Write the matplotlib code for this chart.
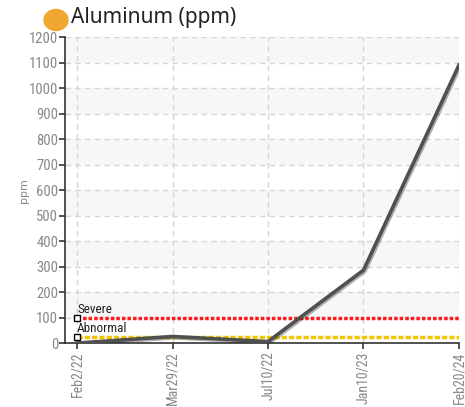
import numpy as np
import matplotlib
matplotlib.use('Agg')
import matplotlib.pyplot as plt
import matplotlib.patheffects as pe
from matplotlib.patches import Circle

dates = ['Feb2/22', 'Mar29/22', 'Jul10/22', 'Jan10/23', 'Feb20/24']
aluminum = [0, 26, 6, 286, 1090]
severe = 100
abnormal = 25
yticks = list(range(0, 1300, 100))

narrow = ['Roboto Condensed', 'DejaVu Sans']

fig = plt.figure(figsize=(4.65, 4.07), dpi=100)
ax = fig.add_axes([0.14, 0.157, 0.847, 0.752])

x = np.arange(len(dates))

# alternating bands
for lo in range(100, 1200, 200):
    ax.axhspan(lo, lo + 100, color='#f7f7f7', zorder=0, lw=0)

for yy in yticks:
    ax.axhline(yy, color='#d6d6d6', ls=(0, (4, 3)), lw=1, zorder=1)
for xx in x:
    ax.axvline(xx, color='#d6d6d6', ls=(0, (4, 3)), lw=1, zorder=1)

ax.plot([x[0], x[-1]], [severe, severe], color='#ff1a1a', lw=2.5,
        ls=(0, (1, 0.6)), zorder=2)
ax.plot([x[0], x[-1]], [abnormal, abnormal], color='#f5c400', lw=2.5,
        ls=(0, (1.5, 0.6)), zorder=2)
ax.plot([x[0], x[0]], [severe, abnormal], ls='none', marker='s', ms=4.5,
        mfc='white', mec='black', mew=1, zorder=4)
ax.text(x[0], severe + 8, 'Severe', fontsize=9.5, family=narrow,
        color='#222222', va='bottom', ha='left')
ax.text(x[0], abnormal + 8, 'Abnormal', fontsize=9.5, family=narrow,
        color='#222222', va='bottom', ha='left')

ax.plot(x, aluminum, color='#505050', lw=2.6, zorder=3,
        path_effects=[pe.SimpleLineShadow(offset=(1, -1), alpha=0.3),
                      pe.Normal()])

ax.set_xlim(-0.126, len(dates) - 1)
ax.set_ylim(0, 1200)
ax.set_yticks(yticks)
ax.set_xticks(x)
ax.set_xticklabels(dates, rotation=90, family=narrow, fontsize=10,
                   color='#888888')
for lab in ax.get_yticklabels():
    lab.set_family(narrow)
    lab.set_fontsize(10.5)
    lab.set_color('#888888')
ax.tick_params(axis='both', length=4, width=1.2, color='#333333', pad=2)
ax.tick_params(axis='y', pad=1)
for s in ['top', 'right']:
    ax.spines[s].set_visible(False)
for s in ['left', 'bottom']:
    ax.spines[s].set_color('#333333')
    ax.spines[s].set_linewidth(1.2)
ax.set_ylabel('ppm', fontsize=8, color='#888888', labelpad=0)

fig.patches.append(Circle((56 / 465, 1 - 20 / 407), 12 / 465,
                          transform=fig.transFigure, color='#f0a830',
                          figure=fig))
fig.text(71 / 465, 1 - 17 / 407, 'Aluminum (ppm)', fontsize=15,
         family=['Noto Sans', 'DejaVu Sans'], color='#222222',
         va='center', ha='left')

fig.savefig('out.png', dpi=100)
